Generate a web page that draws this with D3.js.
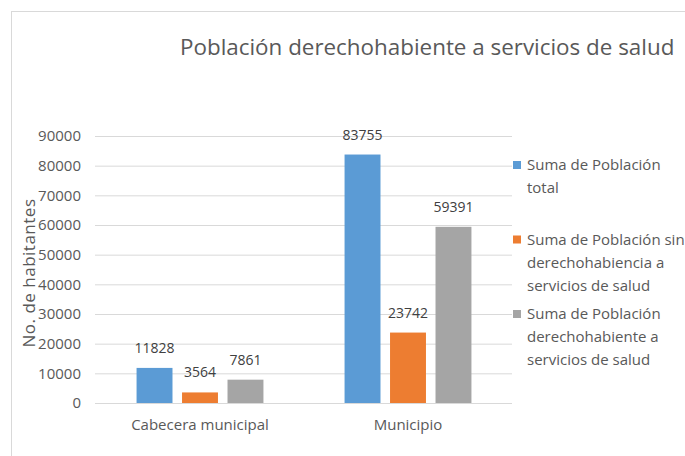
<!DOCTYPE html>
<html>
<head>
<meta charset="utf-8">
<script src="https://cdn.jsdelivr.net/npm/d3@7"></script>
<style>
    body { margin: 0; background: #fff; }
    text { font-family: 'Open Sans', 'Noto Sans', sans-serif; }
</style>
</head>
<body>
<div id="chart"></div>
<script>
//data
var categories = ['Cabecera municipal', 'Municipio'];
var seriesKeys = ['total', 'sin', 'con'];
var totalValues = [11828, 83755];
var sinValues = [3564, 23742];
var conValues = [7861, 59391];
var yTicks = [0, 10000, 20000, 30000, 40000, 50000, 60000, 70000, 80000, 90000];
var legendLines = [
    ['Suma de Población', 'total'],
    ['Suma de Población sin', 'derechohabiencia a', 'servicios de salud'],
    ['Suma de Población', 'derechohabiente a', 'servicios de salud']
];
var titleText = 'Población derechohabiente a servicios de salud';
var yTitle = 'No. de habitantes';

//colours
var $blue = '#5b9bd5';
var $orange = '#ed7d31';
var $grey = '#a5a5a5';
var $text = '#595959';
var $label = '#404040';
var $grid = '#d9d9d9';

var width = 685;
var height = 456;
var plot = {left: 96, right: 512, top: 136, bottom: 403};

var svg = d3.select('#chart').append('svg')
    .attr('width', width)
    .attr('height', height);

//chart border
svg.append('rect')
    .attr('x', 11.5)
    .attr('y', 11.5)
    .attr('width', width + 20)
    .attr('height', height + 20)
    .attr('fill', 'none')
    .attr('stroke', $grid);

//scales
var y = d3.scaleLinear()
    .domain([0, 90000])
    .range([plot.bottom, plot.top]);

var x0 = d3.scaleBand()
    .domain(categories)
    .range([plot.left, plot.right])
    .paddingInner(0.39)
    .paddingOuter(0.195);

var x1 = d3.scaleBand()
    .domain(seriesKeys)
    .range([0, x0.bandwidth()])
    .paddingInner(0.21);

var color = d3.scaleOrdinal()
    .domain(seriesKeys)
    .range([$blue, $orange, $grey]);

//rows for the bars
var rows = categories.map(function(c, i) {
    return {
        cat: c,
        values: [
            {key: 'total', value: totalValues[i]},
            {key: 'sin', value: sinValues[i]},
            {key: 'con', value: conValues[i]}
        ]
    };
});

//gridlines + y labels
var yAxis = d3.axisLeft(y)
    .tickValues(yTicks)
    .tickSize(-(plot.right - plot.left + 1))
    .tickPadding(14)
    .tickFormat(d3.format('d'));

var yG = svg.append('g')
    .attr('transform', 'translate(' + (plot.left - 1) + ',0)')
    .call(yAxis);

yG.select('.domain').remove();
yG.selectAll('.tick line')
    .attr('stroke', $grid)
    .attr('stroke-width', 1);
yG.selectAll('.tick text')
    .attr('fill', $text)
    .style('font-size', '15px');

//category labels
var xAxis = d3.axisBottom(x0).tickSize(0).tickPadding(16);
var xG = svg.append('g')
    .attr('transform', 'translate(0,' + plot.bottom + ')')
    .call(xAxis);
xG.select('.domain').remove();
xG.selectAll('.tick text')
    .attr('fill', $text)
    .style('font-size', '15px');

//bars
var groups = svg.selectAll('g.cat')
    .data(rows)
    .enter().append('g')
    .attr('class', 'cat')
    .attr('transform', function(d) {
        return 'translate(' + x0(d.cat) + ',0)';
    });

groups.selectAll('rect')
    .data(function(d) { return d.values; })
    .enter().append('rect')
    .attr('x', function(d) { return x1(d.key); })
    .attr('y', function(d) { return y(d.value); })
    .attr('width', x1.bandwidth())
    .attr('height', function(d) { return y(0) - y(d.value); })
    .attr('fill', function(d) { return color(d.key); });

//data labels
groups.selectAll('text.val')
    .data(function(d) { return d.values; })
    .enter().append('text')
    .attr('class', 'val')
    .attr('x', function(d) { return x1(d.key) + x1.bandwidth() / 2; })
    .attr('y', function(d) { return y(d.value) - 15; })
    .attr('text-anchor', 'middle')
    .attr('fill', $label)
    .style('font-size', '14px')
    .text(function(d) { return d.value; });

//title
svg.append('text')
    .attr('x', 180)
    .attr('y', 55)
    .attr('fill', $text)
    .style('font-size', '22.4px')
    .text(titleText);

//y axis title
svg.append('text')
    .attr('transform', 'translate(35,273) rotate(-90)')
    .attr('text-anchor', 'middle')
    .attr('fill', $text)
    .style('font-size', '17px')
    .style('letter-spacing', '0.5px')
    .text(yTitle);

//legend
var legend = svg.selectAll('g.legend')
    .data(seriesKeys)
    .enter().append('g')
    .attr('class', 'legend')
    .attr('transform', function(d, i) {
        return 'translate(513,' + (165 + i * 74.5) + ')';
    });

legend.append('rect')
    .attr('x', 0)
    .attr('y', -4)
    .attr('width', 8)
    .attr('height', 8)
    .attr('fill', function(d) { return color(d); });

legend.append('text')
    .attr('fill', $text)
    .style('font-size', '15px')
    .selectAll('tspan')
    .data(function(d, i) { return legendLines[i]; })
    .enter().append('tspan')
    .attr('x', 14)
    .attr('y', function(d, j) { return j * 23; })
    .attr('dy', '0.35em')
    .text(function(d) { return d; });
</script>
</body>
</html>
